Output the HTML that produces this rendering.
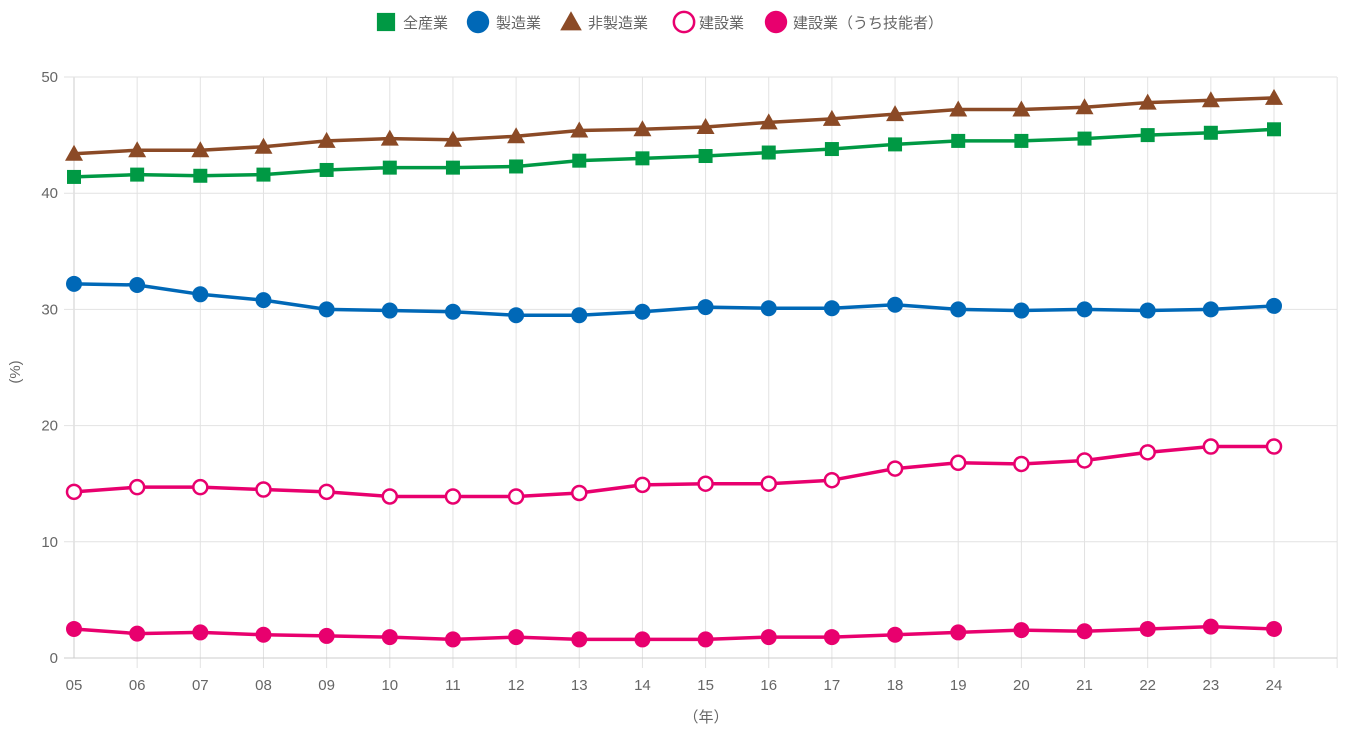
<!DOCTYPE html>
<html><head><meta charset="utf-8"><style>
body{margin:0;background:#fff;}
svg text{font-family:"Liberation Sans","Noto Sans CJK JP",sans-serif;fill:#666;}
</style></head><body>
<svg id="c" width="1350" height="735" xmlns="http://www.w3.org/2000/svg"></svg>
<script>
const s=document.getElementById('c');let h='';
const X=i=>74+i*63.158, Y=v=>658-v*11.62;
for(let i=0;i<=20;i++){const x=X(i);h+=`<line x1="${x}" y1="77" x2="${x}" y2="${i==0?658:668}" stroke="${i==0?'#ccc':'#e2e2e2'}"/>`;}
for(let v=0;v<=50;v+=10){const y=Y(v);h+=`<line x1="64" y1="${y}" x2="1337" y2="${y}" stroke="${v==0?'#ccc':'#e2e2e2'}"/><text x="58" y="${y+5}" font-size="15" text-anchor="end">${v}</text>`;}
for(let i=0;i<20;i++){const l=String(5+i).padStart(2,'0');h+=`<text x="${X(i)}" y="690" font-size="15" text-anchor="middle">${l}</text>`;}
h+=`<text x="706" y="722" font-size="15" text-anchor="middle">（年）</text>`;
h+=`<text transform="translate(20,372) rotate(-90)" font-size="15" text-anchor="middle">(%)</text>`;
const D=[
['#009944','sq',[41.4,41.6,41.5,41.6,42.0,42.2,42.2,42.3,42.8,43.0,43.2,43.5,43.8,44.2,44.5,44.5,44.7,45.0,45.2,45.5]],
['#0068b7','c',[32.2,32.1,31.3,30.8,30.0,29.9,29.8,29.5,29.5,29.8,30.2,30.1,30.1,30.4,30.0,29.9,30.0,29.9,30.0,30.3]],
['#8b4a26','t',[43.4,43.7,43.7,44.0,44.5,44.7,44.6,44.9,45.4,45.5,45.7,46.1,46.4,46.8,47.2,47.2,47.4,47.8,48.0,48.2]],
['#e8006e','o',[14.3,14.7,14.7,14.5,14.3,13.9,13.9,13.9,14.2,14.9,15.0,15.0,15.3,16.3,16.8,16.7,17.0,17.7,18.2,18.2]],
['#e8006e','c',[2.5,2.1,2.2,2.0,1.9,1.8,1.6,1.8,1.6,1.6,1.6,1.8,1.8,2.0,2.2,2.4,2.3,2.5,2.7,2.5]]];
function mk(t,x,y,c,k=1){
 if(t=='sq')return `<rect x="${x-7*k}" y="${y-7*k}" width="${14*k}" height="${14*k}" fill="${c}"/>`;
 if(t=='c')return `<circle cx="${x}" cy="${y}" r="${8*k}" fill="${c}"/>`;
 if(t=='o')return `<circle cx="${x}" cy="${y}" r="${7*k}" fill="#fff" stroke="${c}" stroke-width="2.5"/>`;
 return `<polygon points="${x},${y-9*k} ${x+9*k},${y+7*k} ${x-9*k},${y+7*k}" fill="${c}"/>`;}
for(const [c,t,d] of D){h+=`<polyline fill="none" stroke="${c}" stroke-width="3.5" stroke-linejoin="round" points="${d.map((v,i)=>X(i)+','+Y(v)).join(' ')}"/>`;
 d.forEach((v,i)=>h+=mk(t,X(i),Y(v),c));}
const L=[['#009944','sq',386,403,'全産業',1.3],['#0068b7','c',478,496,'製造業',1.4],['#8b4a26','t',571,588,'非製造業',1.2],['#e8006e','o',684,699,'建設業',1.45],['#e8006e','c',776,793,'建設業（うち技能者）',1.4]];
for(const [c,t,mx,tx,l,k] of L){h+=mk(t,mx,22,c,k);h+=`<text x="${tx}" y="28" font-size="15">${l}</text>`;}
s.innerHTML=h;
</script>
</body></html>
